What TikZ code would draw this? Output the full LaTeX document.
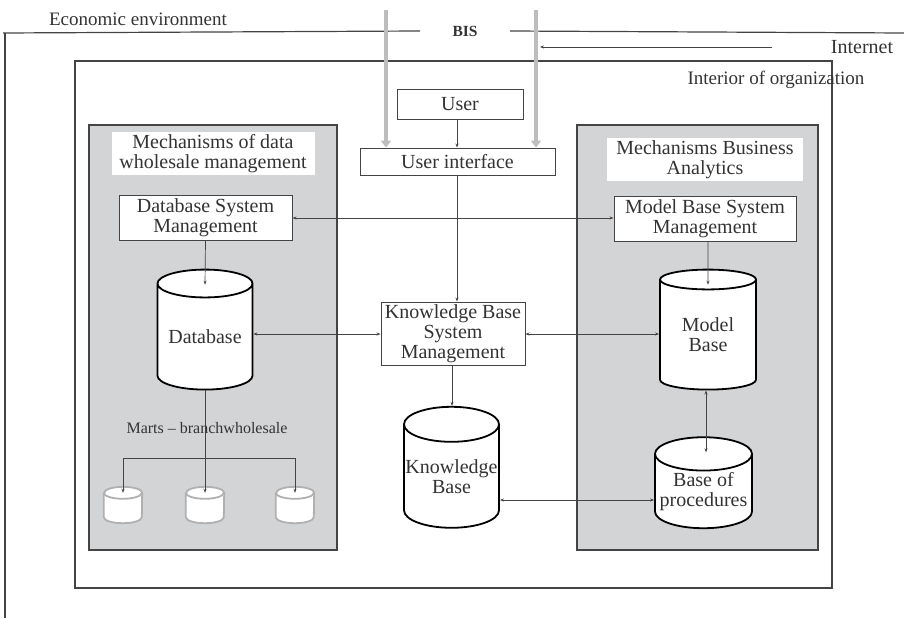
\documentclass[tikz,border=0pt]{standalone}
\usepackage{fontspec}
\setmainfont{Liberation Serif}
\usetikzlibrary{shapes.geometric,arrows.meta,calc}
\definecolor{panelc}{HTML}{D3D4D6}
\definecolor{ink}{HTML}{333333}
\definecolor{edgec}{HTML}{444444}
\definecolor{pipec}{HTML}{BDBDBD}
\definecolor{martc}{HTML}{B0B0B0}
\tikzset{
  txt/.style={font=\fontsize{20}{20}\selectfont, text=ink},
  box/.style={draw=edgec, line width=0.9pt, fill=white, txt, align=center, inner sep=0pt},
  ttl/.style={fill=white, txt, align=center, inner sep=0pt},
  dbcyl/.style={cylinder, shape border rotate=90, aspect=0.38, draw=black, line width=1.8pt, fill=white, txt, align=center, inner sep=0pt},
  martbox/.style={draw=none, minimum width=38pt, minimum height=36pt, inner sep=0pt},
  conn/.style={draw=edgec, line width=0.7pt},
  arr/.style={conn, -{Stealth[length=4pt,width=3pt]}},
  darr/.style={conn, {Stealth[length=4pt,width=3pt]}-{Stealth[length=4pt,width=3pt]}},
  pipe/.style={draw=pipec, line width=4pt, -{Triangle[length=7pt,width=10pt]}},
  panel/.style={draw=edgec, line width=1.2pt, fill=panelc},
  frame/.style={draw=edgec, line width=1.2pt},
}
\newcommand\martcyl[1]{%
  \draw[martc, line width=1.8pt, fill=white]
    ($(#1.north west)+(0,6)$) -- ($(#1.south west)+(0,-6)$)
    arc[start angle=180, end angle=0, x radius=19, y radius=6]
    -- ($(#1.north east)+(0,6)$)
    arc[start angle=0, end angle=-180, x radius=19, y radius=6];
  \draw[martc, line width=1.8pt]
    ($(#1.north west)+(0,6)$) arc[start angle=180, end angle=0, x radius=19, y radius=6];
}
\begin{document}
\begin{tikzpicture}[x=1pt,y=-1pt]
\useasboundingbox (0,0) rectangle (904,618);
% environment
\node[txt, font=\fontsize{19}{21}\selectfont] (econ) at (138,19) {Economic environment};
\node[txt, font=\bfseries\fontsize{15.5}{17}\selectfont] (bis) at (465,31) {BIS};
\coordinate (envL) at (3,33);
\coordinate (envR) at (904,33);
\draw[frame] (envL) -- (bis.west -| 420,0);
\draw[frame] (bis.east -| 510,0) -- (envR);
\draw[frame] (5,33) -- (5,618);
\node[txt] (inet) at (862,47) {Internet};
\coordinate (inetS) at (772,47);
\coordinate (inetE) at (540,47);
\draw[arr] (inetS) -- (inetE);
% interior
\node[draw=edgec, line width=1.2pt, minimum width=757pt, minimum height=527pt, inner sep=0pt] (interior) at (453.5,324.5) {};
\node[txt, font=\fontsize{19}{21}\selectfont] (intlab) at (776,80) {Interior of organization};
% panels
\node[panel, minimum width=248pt, minimum height=425pt, inner sep=0pt] (lpanel) at (213,337.5) {};
\node[panel, minimum width=241pt, minimum height=425pt, inner sep=0pt] (rpanel) at (697.5,337.5) {};
\node[ttl, minimum width=203pt, minimum height=43pt] (ltitle) at (213,153.5) {Mechanisms of data\\wholesale management};
\node[ttl, minimum width=196pt, minimum height=43pt] (rtitle) at (705,159.5) {Mechanisms Business\\Analytics};
% boxes
\node[box, minimum width=126pt, minimum height=30pt] (user) at (460,104) {User};
\node[box, minimum width=195pt, minimum height=27pt] (ui) at (457.5,161.5) {User interface};
\node[box, minimum width=144pt, minimum height=63pt] (kbsm) at (453,333.5) {Knowledge Base\\System\\Management};
\node[box, minimum width=173pt, minimum height=45pt] (dbsm) at (205.5,218) {Database System\\Management};
\node[box, minimum width=182pt, minimum height=45pt] (mbsm) at (705,218.5) {Model Base System\\Management};
% cylinders
\node[dbcyl, minimum width=95pt, minimum height=120pt] (db) at (205,337) {Database};
\node[dbcyl, minimum width=96pt, minimum height=120pt] (mb) at (708,335) {Model\\Base};
\node[dbcyl, minimum width=97pt, minimum height=91pt] (bop) at (703.5,491.5) {Base of\\procedures};
\node[dbcyl, minimum width=95pt, minimum height=121pt] (kb) at (451.5,476.5) {Knowledge\\Base};
\node[txt, font=\fontsize{16}{18}\selectfont] (marts) at (207,428) {Marts -- branchwholesale};
\node[martbox] (m1) at (123,505) {};
\node[martbox] (m2) at (205,505) {};
\node[martbox] (m3) at (295,505) {};
\martcyl{m1}
\martcyl{m2}
\martcyl{m3}
% connectors
\draw[arr] (user.south -| 457,0) -- (ui.north -| 457,0);
\draw[arr] (ui.south -| 457,0) -- (kbsm.north -| 457,0);
\draw[darr] (dbsm.east) -- (mbsm.west |- dbsm.east);
\draw[darr] (db.east |- 0,334) -- (kbsm.west |- 0,334);
\draw[darr] (kbsm.east |- 0,334) -- (mb.west |- 0,334);
\draw[arr] (dbsm.south) -- ($(db.north)+(0,16)$);
\draw[arr] (mbsm.south -| 708,0) -- ($(mb.north)+(0,16)$);
\draw[arr] (kbsm.south -| 452,0) -- (kb.north -| 452,0);
\draw[darr] (mb.south -| 706,0) -- ($(bop.north -| 706,0)+(0,16)$);
\draw[darr] (kb.east |- 0,500) -- (bop.west |- 0,500);
\coordinate (split) at (205,458);
\draw[arr] (db.south) -- ($(m2.north)+(0,6)$);
\draw[arr] (split) -| ($(m1.north)+(0,6)$);
\draw[arr] (split) -| ($(m3.north)+(0,6)$);
% pipes
\coordinate (p1) at (386,10);
\coordinate (p2) at (536,10);
\draw[pipe] (p1) -- (ui.north -| p1);
\draw[pipe] (p2) -- (ui.north -| p2);
\end{tikzpicture}
\end{document}
